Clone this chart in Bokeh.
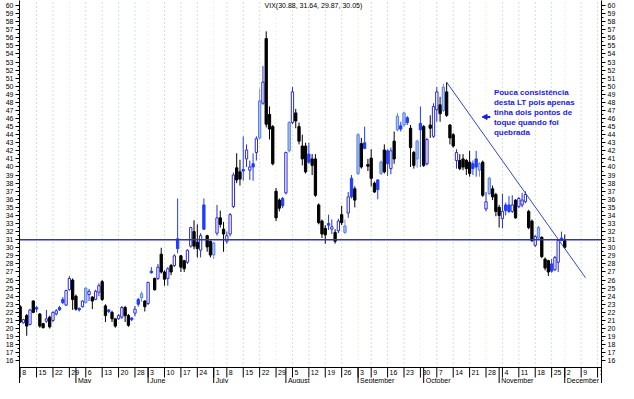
import pandas as pd
from bokeh.plotting import figure
from bokeh.models import Range1d, LinearAxis, FixedTicker, Span, Arrow, NormalHead, ColumnDataSource
from bokeh.core.properties import value
from bokeh.embed import file_html
from bokeh.resources import INLINE

# ---------------- data ----------------
CAL_START = "2002-04-08"
CAL_END = "2002-12-20"
HOLIDAYS = ["2002-05-27", "2002-07-04", "2002-09-02", "2002-11-28"]

OPEN = [22.7, 20.7, 21.6, 20.5, 23.4, 22.6, 21.8, 20.6, 20.9, 21.4,
        21.0, 21.8, 22.6, 23.6, 22.9, 24.8, 26.0, 24.0, 22.5, 22.7,
        23.2, 24.2, 23.9, 23.6, 24.5, 25.8, 22.8, 22.3, 22.0, 21.2,
        21.2, 21.4, 22.6, 21.6, 21.3, 21.9, 23.6, 23.8, 23.4, 23.1,
        27.1, 26.2, 26.2, 29.2, 27.0, 26.2, 27.8, 27.8, 31.1, 29.0,
        28.4, 28.2, 30.2, 32.0, 30.7, 29.7, 35.3, 31.5, 30.8, 29.1,
        31.8, 33.7, 32.3, 30.8, 31.7, 35.1, 39.9, 39.4, 39.7, 41.0,
        39.6, 40.4, 41.8, 43.6, 47.9, 55.9, 46.5, 45.0, 37.0, 35.9,
        36.1, 36.8, 42.0, 45.5, 46.7, 45.0, 42.6, 42.6, 41.6, 41.0,
        41.0, 35.3, 33.3, 32.4, 33.0, 32.3, 31.9, 32.1, 34.1, 31.9,
        34.3, 38.6, 37.3, 39.2, 42.9, 43.0, 40.3, 41.1, 38.0, 38.4,
        39.2, 42.1, 42.0, 39.8, 43.2, 44.6, 45.1, 45.2, 46.1, 44.8,
        41.8, 41.0, 45.4, 45.0, 40.4, 45.2, 43.8, 47.1, 47.7, 47.0,
        49.3, 45.2, 44.0, 40.8, 40.8, 41.0, 40.8, 40.6, 40.4, 41.0,
        39.6, 40.6, 34.8, 36.7, 37.3, 36.6, 35.0, 33.6, 35.3, 35.3,
        34.5, 35.9, 35.1, 35.3, 35.7, 34.5, 33.3, 30.3, 32.5, 31.3,
        28.6, 28.4, 28.0, 27.3, 28.2, 31.2, 30.88]
HIGH = [22.9, 21.2, 21.8, 22.4, 23.5, 22.8, 21.9, 20.7, 22.3, 21.6,
        22.1, 22.4, 22.8, 23.9, 24.8, 26.5, 26.2, 24.2, 22.6, 23.5,
        25.1, 24.9, 24.0, 24.8, 25.6, 26.0, 23.0, 22.4, 22.2, 21.2,
        21.8, 22.8, 22.8, 21.8, 21.4, 22.8, 23.8, 24.6, 23.5, 25.8,
        27.6, 26.3, 28.0, 30.0, 27.2, 27.6, 28.0, 29.2, 36.1, 29.1,
        28.5, 29.8, 32.6, 33.4, 32.9, 31.8, 36.1, 31.6, 30.9, 30.7,
        35.3, 34.6, 33.2, 32.0, 34.3, 39.3, 41.7, 40.9, 43.8, 42.8,
        40.8, 41.7, 43.8, 49.7, 52.5, 56.8, 47.5, 45.2, 37.4, 36.1,
        36.3, 41.9, 45.7, 49.9, 47.2, 45.5, 44.0, 43.0, 43.0, 41.6,
        41.6, 35.5, 33.5, 32.8, 34.1, 33.5, 32.3, 33.6, 35.2, 33.5,
        36.9, 39.0, 37.6, 44.2, 43.6, 45.0, 41.0, 42.2, 38.2, 38.5,
        40.8, 42.8, 42.2, 42.4, 44.4, 46.7, 45.6, 46.8, 46.3, 45.2,
        42.0, 43.4, 47.5, 45.2, 43.6, 46.4, 47.9, 49.9, 48.7, 50.3,
        50.5, 45.3, 44.2, 42.2, 41.6, 41.6, 41.0, 42.0, 40.8, 42.0,
        40.6, 40.8, 36.9, 38.8, 37.7, 36.8, 35.3, 36.7, 35.6, 36.4,
        36.5, 36.0, 36.3, 36.8, 37.0, 34.7, 33.5, 31.6, 32.7, 31.4,
        28.8, 28.5, 28.6, 29.0, 30.9, 32.0, 31.64]
LOW = [20.7, 20.6, 19.1, 20.4, 21.9, 22.0, 20.1, 20.0, 20.7, 20.0,
       20.8, 21.6, 22.2, 23.0, 22.8, 24.7, 22.3, 22.2, 22.1, 22.6,
       23.1, 23.4, 22.4, 23.5, 24.0, 23.4, 20.8, 21.9, 20.8, 20.1,
       21.1, 21.2, 20.8, 20.2, 20.9, 21.5, 22.7, 23.3, 22.1, 22.9,
       26.8, 24.7, 26.0, 26.8, 25.3, 25.3, 26.6, 27.6, 29.3, 27.0,
       27.0, 28.0, 30.0, 29.8, 28.8, 28.8, 32.2, 29.5, 28.8, 28.6,
       31.5, 32.5, 29.5, 30.5, 31.4, 34.9, 38.0, 37.7, 38.3, 40.0,
       38.4, 38.3, 40.8, 43.4, 47.7, 44.9, 43.4, 40.2, 33.3, 34.5,
       34.9, 36.6, 41.8, 45.3, 44.8, 42.8, 40.2, 39.2, 40.4, 39.0,
       36.3, 32.9, 31.2, 30.5, 32.2, 31.7, 30.5, 31.8, 32.8, 31.7,
       33.7, 36.1, 35.0, 39.0, 39.8, 42.2, 39.5, 37.6, 36.8, 36.0,
       39.0, 39.2, 38.9, 39.1, 40.4, 44.4, 44.4, 45.0, 45.2, 40.0,
       39.8, 39.9, 40.0, 40.0, 40.2, 43.6, 43.6, 45.6, 45.6, 46.8,
       46.2, 42.8, 42.4, 39.8, 39.6, 39.6, 39.0, 38.8, 39.0, 38.8,
       38.8, 36.3, 34.5, 36.5, 35.9, 33.9, 32.5, 32.4, 34.0, 34.3,
       34.3, 33.6, 34.9, 35.0, 35.5, 32.3, 30.7, 30.1, 31.0, 28.7,
       27.2, 26.5, 26.9, 27.1, 27.0, 30.8, 29.87]
CLOSE = [20.8, 21.1, 20.3, 22.3, 22.0, 22.4, 20.3, 20.1, 21.2, 20.2,
         22.0, 22.2, 22.3, 23.2, 24.7, 26.2, 23.6, 22.4, 22.3, 23.4,
         25.0, 24.6, 23.4, 24.6, 25.3, 23.6, 21.6, 22.1, 21.2, 20.3,
         21.6, 22.6, 21.6, 20.4, 21.1, 22.4, 23.0, 24.3, 22.7, 25.7,
         26.9, 24.8, 27.6, 27.0, 26.1, 27.4, 27.0, 29.0, 29.9, 27.6,
         27.4, 29.7, 32.5, 30.2, 29.9, 31.5, 32.3, 30.1, 29.1, 30.6,
         33.7, 32.9, 31.7, 31.5, 34.1, 39.0, 38.4, 38.5, 39.5, 42.1,
         40.0, 40.0, 43.5, 48.2, 50.5, 45.3, 44.7, 40.4, 33.7, 34.9,
         35.2, 41.8, 45.5, 49.3, 45.7, 43.2, 41.0, 39.4, 40.6, 40.2,
         36.5, 33.1, 31.7, 31.6, 32.8, 32.6, 30.8, 33.3, 33.1, 32.7,
         36.3, 36.3, 35.9, 44.0, 40.0, 42.3, 40.1, 38.6, 36.9, 37.2,
         40.6, 39.4, 40.4, 42.0, 41.0, 46.3, 44.7, 46.7, 45.5, 42.4,
         40.2, 43.2, 44.6, 40.2, 43.4, 44.8, 47.5, 49.3, 46.6, 49.9,
         46.4, 43.6, 42.6, 41.8, 39.8, 40.0, 39.8, 39.2, 39.8, 40.0,
         40.4, 36.5, 35.7, 38.6, 36.3, 34.5, 34.0, 34.5, 34.6, 34.5,
         35.3, 33.7, 36.1, 35.9, 36.6, 32.5, 30.9, 31.4, 31.2, 28.9,
         27.5, 27.0, 27.1, 28.8, 30.9, 30.9, 30.05]
# h = hollow blue, b = black, f = blue filled, l = light blue filled
STYLE = list("bhbhbfbbhb" "hhffhhbbfh" "lhbhhbbfbb" "hhbbfhflbh"
             "fbhbbhbhfb" "bhhbbhfbbl" "hbbhhhbbfh" "hfhlhbbbbb"
             "fhlhbbbbfb" "bbbbfhbhbl" "hfblbfbbbf" "lbfhblflfb"
             "blfbhbhhbl" "bbbhbbbbff" "lbhlbbbhff" "hbhhhbbhlb"
             "bbfhhfb")

WEEK_STARTS = ["2002-04-08", "2002-04-15", "2002-04-22", "2002-04-29", "2002-05-06",
               "2002-05-13", "2002-05-20", "2002-05-28", "2002-06-03", "2002-06-10",
               "2002-06-17", "2002-06-24", "2002-07-01", "2002-07-08", "2002-07-15",
               "2002-07-22", "2002-07-29", "2002-08-05", "2002-08-12", "2002-08-19",
               "2002-08-26", "2002-09-03", "2002-09-09", "2002-09-16", "2002-09-23",
               "2002-09-30", "2002-10-07", "2002-10-14", "2002-10-21", "2002-10-28",
               "2002-11-04", "2002-11-11", "2002-11-18", "2002-11-25", "2002-12-02",
               "2002-12-09", "2002-12-16"]
MONTH_STARTS = ["2002-05-01", "2002-06-03", "2002-07-01", "2002-08-01",
                "2002-09-03", "2002-10-01", "2002-11-01", "2002-12-02"]
MONTH_NAMES = ["May", "June", "July", "August", "September", "October",
               "November", "December"]
PALE_WEEKS = ["2002-04-29", "2002-06-03", "2002-07-01", "2002-07-29",
              "2002-09-03", "2002-09-30", "2002-10-28", "2002-12-02"]

H_LEVEL = 31
TREND_I = [130, 172.3]
TREND_V = [50.5, 26.3]
TITLE = "VIX(30.88, 31.64, 29.87, 30.05)"
NOTE = ["Pouca consistência", "desta LT pois apenas", "tinha dois pontos de",
        "toque quando foi", "quebrada"]

# ---------------- layout constants ----------------
PX = 8.075                     # pixels per VIX point
YAXIS = 15.17
YTOP = 60 + 5 / PX
YBOT = YAXIS - 16 / PX
ROW = 10 / PX
FONT = value("Liberation Sans")
BLUE = "#2a2ad6"
FILLBLUE = "#1f3cff"
LIGHT = "#a6c6ee"

days = [d for d in pd.bdate_range(CAL_START, CAL_END)
        if d.strftime("%Y-%m-%d") not in HOLIDAYS]
pos = {d.strftime("%Y-%m-%d"): i for i, d in enumerate(days)}

n = len(OPEN)
xs = list(range(n))
fill_map = {"h": "white", "b": "black", "f": FILLBLUE, "l": LIGHT}
line_map = {"h": BLUE, "b": "black", "f": FILLBLUE, "l": "#5b7fe0"}
wick_map = {"h": BLUE, "b": "black", "f": FILLBLUE, "l": "#6f90e4"}
src = ColumnDataSource(dict(
    x=xs, o=OPEN, h=HIGH, l=LOW, c=CLOSE,
    top=[max(a, b) for a, b in zip(OPEN, CLOSE)],
    bot=[min(a, b) for a, b in zip(OPEN, CLOSE)],
    fill=[fill_map[s] for s in STYLE],
    line=[line_map[s] for s in STYLE],
    wick=[wick_map[s] for s in STYLE],
))

p = figure(width=618, height=383, output_backend="svg", toolbar_location=None,
           x_range=Range1d(-0.2, 177.2), y_range=Range1d(YBOT, YTOP),
           min_border_left=19, min_border_right=17, min_border_top=0, min_border_bottom=0,
           x_axis_location=None)
p.outline_line_color = None
p.background_fill_color = "white"
p.border_fill_color = "white"
p.xgrid.visible = False
p.ygrid.visible = False

ticker = FixedTicker(ticks=list(range(16, 61)), minor_ticks=[v + 0.5 for v in range(16, 60)])
right = LinearAxis()
p.add_layout(right, "right")
for ax in (p.yaxis[0], right):
    ax.ticker = ticker
    ax.major_label_text_font = "Liberation Sans"
    ax.major_label_text_font_size = "7px"
    ax.major_label_text_color = "black"
    ax.major_tick_out = 4
    ax.major_tick_in = 0
    ax.minor_tick_out = 2
    ax.minor_tick_in = 0
    ax.major_label_standoff = 2
    ax.axis_line_color = "black"

# vertical dotted grid
wk_x = [pos[d] for d in WEEK_STARTS]
grid_x = wk_x[1:]
grid_c = ["#f0dfae" if d in PALE_WEEKS else "#9fcb9c" for d in WEEK_STARTS[1:]]
p.segment(x0=grid_x, y0=[YAXIS] * len(grid_x), x1=grid_x, y1=[YTOP] * len(grid_x),
          line_color=grid_c, line_width=1, line_dash="1 3")

# horizontal support level
p.add_layout(Span(location=H_LEVEL, dimension="width", line_color="#2e34b4", line_width=1.5))

# candles
p.segment(x0="x", y0="l", x1="x", y1="h", line_color="wick", line_width=1, source=src)
p.vbar(x="x", width=0.7, top="top", bottom="bot", fill_color="fill", line_color="line",
       line_width=1, source=src)

# trend line
p.line(TREND_I, TREND_V, line_color="#3347d2", line_width=1)

# x axis (drawn inside frame)
p.add_layout(Span(location=YAXIS, dimension="width", line_color="black", line_width=1))
p.segment(x0=wk_x, y0=[YAXIS] * len(wk_x), x1=wk_x, y1=[YAXIS - ROW] * len(wk_x),
          line_color="black", line_width=1)
p.text(x=wk_x, y=[YAXIS] * len(wk_x), text=[str(int(d[-2:])) for d in WEEK_STARTS],
       x_offset=2, y_offset=5, text_font=FONT, text_font_size="7px",
       text_align="left", text_baseline="middle", text_color="black")
m_x = [pos[d] for d in MONTH_STARTS]
p.segment(x0=m_x, y0=[YAXIS] * len(m_x), x1=m_x, y1=[YBOT] * len(m_x),
          line_color="black", line_width=1)
p.text(x=m_x, y=[YAXIS] * len(m_x), text=MONTH_NAMES, x_offset=2, y_offset=13,
       text_font=FONT, text_font_size="7px", text_align="left", text_baseline="middle",
       text_color="black")

# title
p.text(x=[74.5], y=[60], text=[TITLE], text_font=FONT, text_font_size="7px",
       text_align="left", text_baseline="middle", text_color="black")

# annotation
p.text(x=[144.4] * len(NOTE), y=[49.2] * len(NOTE), text=NOTE,
       y_offset=[10 * k for k in range(len(NOTE))], text_font=FONT,
       text_font_size="8px", text_font_style="bold", text_align="left",
       text_baseline="middle", text_color="#1b1be0")
p.add_layout(Arrow(end=NormalHead(size=5, fill_color="#1b1be0", line_color="#1b1be0"),
                   x_start=143.3, y_start=46.2, x_end=140.8, y_end=46.2,
                   line_color="#1b1be0", line_width=2))

open("out.html", "w").write(file_html(p, INLINE))
